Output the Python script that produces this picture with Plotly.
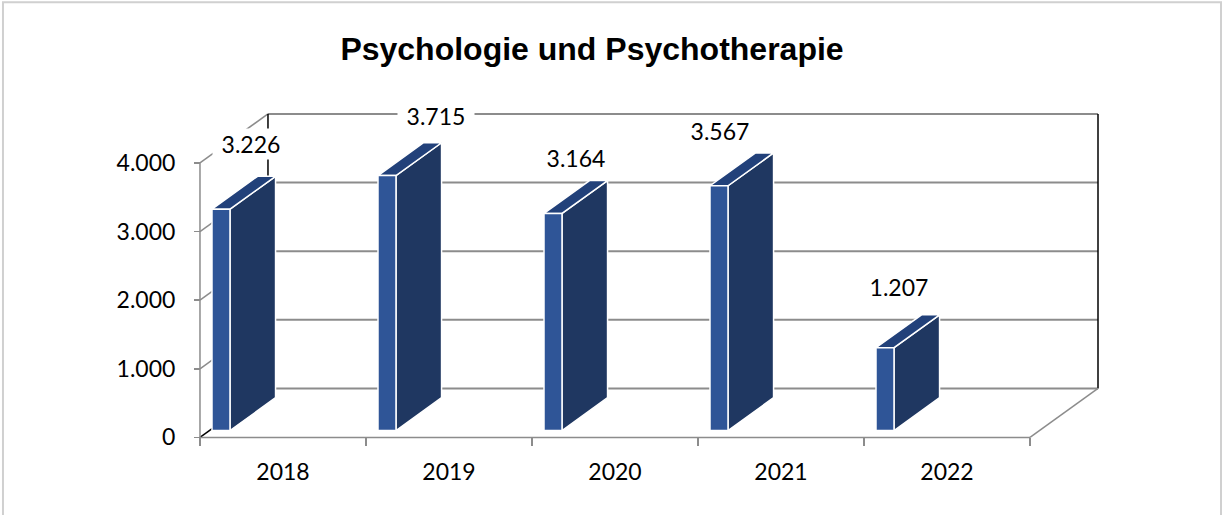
import plotly.graph_objects as go

# ---------------- data ----------------
years = ["2018", "2019", "2020", "2021", "2022"]
values = [3226, 3715, 3164, 3567, 1207]
y_ticks = [0, 1000, 2000, 3000, 4000]
y_tick_labels = ["0", "1.000", "2.000", "3.000", "4.000"]
title_text = "Psychologie und Psychotherapie"

# label placement offsets (pixels, layout only)
label_shift_x = [7, 26, 0, -22, -9]
label_shift_y = [49, 43, 39, 38, 44]

# ---------------- layout / geometry ----------------
W, H = 1228, 515
PX = 166.0          # pixels per category
PY = 0.0686         # pixels per value unit
DX = 68 / PX        # wall depth in x units
DY = 49 / PY        # wall depth in y units
BAR_OFF = 0.015
BAR_W = 18 / PX
D0, D1 = 0.14, 0.81

X0_PX, Y0_PX = 200, 437
xmin, xmax = -0.03, 5.5
ymin, ymax = -300, 4800
plot_w = (xmax - xmin) * PX
plot_h = (ymax - ymin) * PY
m_l = X0_PX + xmin * PX
m_r = W - m_l - plot_w
m_t = Y0_PX - ymax * PY
m_b = H - m_t - plot_h

GRID = "#8C8C8C"
FRONT = "#2F5597"
SIDE = "#1F3761"
TOP = "#22417A"
FONT = "Lato"

ncat = len(years)
ymax_tick = y_ticks[-1]


def proj(x, y, d):
    return x + d * DX, y + d * DY


fig = go.Figure()


def add_path(pts, color, width, fill=None):
    xs, ys = zip(*[proj(*p) for p in pts])
    kw = dict(x=list(xs), y=list(ys), mode="lines",
              line=dict(color=color, width=width),
              hoverinfo="skip", showlegend=False)
    if fill:
        kw.update(fill="toself", fillcolor=fill)
    fig.add_trace(go.Scatter(**kw))


# back wall gridlines
for tv in y_ticks:
    add_path([(0, tv, 1), (ncat, tv, 1)], GRID, 2)
# side wall diagonals
for tv in y_ticks[1:]:
    add_path([(0, tv, 0), (0, tv, 1)], GRID, 1.5)
add_path([(0, 0, 0), (0, 0, 1)], "black", 1.5)
# wall edges
add_path([(0, 0, 1), (0, ymax_tick, 1)], "black", 1.5)
add_path([(ncat, 0, 1), (ncat, ymax_tick, 1)], "black", 1.5)
add_path([(ncat, 0, 0), (ncat, 0, 1)], GRID, 1.5)
# front axes
add_path([(0, 0, 0), (ncat, 0, 0)], GRID, 1.5)
add_path([(0, 0, 0), (0, ymax_tick, 0)], GRID, 1.5)

# bars
for i, v in enumerate(values):
    xl = i + BAR_OFF
    xr = xl + BAR_W
    # side
    add_path([(xr, 0, D0), (xr, 0, D1), (xr, v, D1), (xr, v, D0), (xr, 0, D0)],
             "white", 1.5, SIDE)
    # top
    add_path([(xl, v, D0), (xr, v, D0), (xr, v, D1), (xl, v, D1), (xl, v, D0)],
             "white", 1.5, TOP)
    # front
    add_path([(xl, 0, D0), (xr, 0, D0), (xr, v, D0), (xl, v, D0), (xl, 0, D0)],
             "white", 1.5, FRONT)
    cx, cy = proj(xl + BAR_W / 2, v, (D0 + D1) / 2)
    fig.add_annotation(x=cx, y=cy, xref="x", yref="y",
                       text=f"{v:,}".replace(",", "."),
                       showarrow=False, xshift=label_shift_x[i], yshift=label_shift_y[i],
                       bgcolor="white", width=74, borderpad=1,
                       font=dict(family=FONT, size=23, color="black"))

# chart border
fig.add_shape(type="rect", xref="paper", yref="paper",
              x0=(3 - m_l) / plot_w, x1=(1221 - m_l) / plot_w,
              y0=(H - m_b - 520) / plot_h, y1=(H - m_b - 2) / plot_h,
              line=dict(color="#D0D0D0", width=2), fillcolor="rgba(0,0,0,0)")

fig.update_layout(
    template="none",
    width=W, height=H,
    margin=dict(l=m_l, r=m_r, t=m_t, b=m_b, pad=0),
    paper_bgcolor="white", plot_bgcolor="white",
    showlegend=False,
    title=dict(text=title_text, x=592 / W, xref="container", xanchor="center",
               y=1 - 49 / H, yref="container", yanchor="middle",
               font=dict(family="Liberation Sans", size=32, color="black", weight="bold")),
    xaxis=dict(range=[xmin, xmax], anchor="free",
               position=(0 - ymin) / (ymax - ymin),
               tickmode="array", tickvals=[i + 0.5 for i in range(ncat)], ticktext=years,
               ticks="", showline=False, showgrid=False, zeroline=False,
               automargin=False, ticklabelstandoff=19,
               tickfont=dict(family=FONT, size=23, color="black"),
               minor=dict(tickmode="array", tickvals=list(range(ncat + 1)),
                          ticks="outside", ticklen=8, tickcolor=GRID, tickwidth=1.5,
                          showgrid=False)),
    yaxis=dict(range=[ymin, ymax], anchor="free",
               position=(0 - xmin) / (xmax - xmin),
               tickmode="array", tickvals=y_ticks, ticktext=y_tick_labels,
               ticks="outside", ticklen=6, tickcolor=GRID, tickwidth=1.5,
               showline=False, showgrid=False, zeroline=False,
               automargin=False, ticklabelstandoff=14,
               tickfont=dict(family=FONT, size=23, color="black")),
)

fig.write_html("out.html",
               config={"displayModeBar": False, "staticPlot": True},
               post_script="document.body.style.margin='0px';"
                           "document.body.style.overflow='hidden';")
